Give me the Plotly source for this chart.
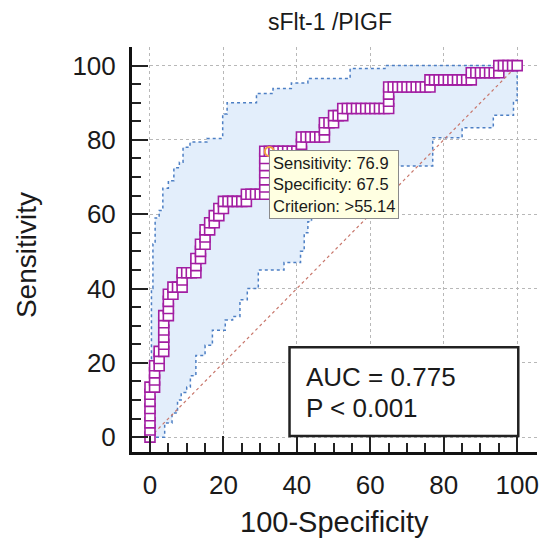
import plotly.graph_objects as go

# ROC points as counts: false positives (of 80 controls) and true positives (of 52 cases)
n_neg = 80
n_pos = 52
roc_fp = [0, 0, 0, 0, 0, 0, 0, 0, 1, 1, 1, 1, 2, 2, 2, 3, 3, 3, 3, 3, 3, 4, 4, 4, 4, 5, 5, 6,
          7, 7, 7, 8, 9, 10, 10, 10, 11, 11, 11, 12, 12, 12, 13, 13, 14, 14, 15, 15, 16, 16,
          17, 18, 19, 20, 21, 21, 22, 23, 24, 25, 25, 25, 25, 25, 25, 25,
          26, 27, 28, 29, 30, 31, 32, 33, 33, 33, 34, 35, 36, 37, 38, 38, 38, 39, 40, 40, 41,
          42, 42, 43, 44, 45, 46, 47, 48, 49, 50, 51, 52, 52, 52, 52,
          53, 54, 55, 56, 57, 58, 59, 60, 61, 61, 62, 63, 64, 65, 66, 67, 68, 69, 70, 70,
          71, 72, 73, 74, 75, 76, 76, 77, 78, 79, 80]
roc_tp = [0, 1, 2, 3, 4, 5, 6, 7, 7, 8, 9, 10, 10, 11, 12, 12, 13, 14, 15, 16, 17, 17, 18, 19, 20, 20, 21, 21,
          21, 22, 23, 23, 23, 23, 24, 25, 25, 26, 27, 27, 28, 29, 29, 30, 30, 31, 31, 32, 32, 33,
          33, 33, 33, 33, 33, 34, 34, 34, 34, 34, 35, 36, 37, 38, 39, 40,
          40, 40, 40, 40, 40, 40, 40, 40, 41, 42, 42, 42, 42, 42, 42, 43, 44, 44, 44, 45, 45,
          45, 46, 46, 46, 46, 46, 46, 46, 46, 46, 46, 46, 47, 48, 49,
          49, 49, 49, 49, 49, 49, 49, 49, 49, 50, 50, 50, 50, 50, 50, 50, 50, 50, 50, 51,
          51, 51, 51, 51, 51, 51, 52, 52, 52, 52, 52]

# 95% confidence bounds (step outlines, in %)
upper_x = [0.4, 0.4, 0.8, 0.8, 1.4, 1.4, 2.5, 2.5, 3.5, 3.5, 5.0, 5.0, 6.5, 6.5, 8.0, 8.0, 9.0, 9.0,
           10.9, 10.9, 15.5, 15.5, 19.8, 19.8, 21.0, 21.0, 29.0, 29.0, 33.5, 33.5, 38.5, 38.5,
           43.0, 43.0, 54.5, 54.5, 64.0, 64.0, 100.0]
upper_y = [0, 40, 40, 52, 52, 59, 59, 61, 61, 67, 67, 69, 69, 72.5, 72.5, 74, 74, 78,
           78, 79.4, 79.4, 80.4, 80.4, 87, 87, 90, 90, 92.5, 92.5, 93.8, 93.8, 95.3,
           95.3, 96.5, 96.5, 99.2, 99.2, 100, 100]
lower_x = [0, 4.0, 4.0, 6.0, 6.0, 7.5, 7.5, 8.5, 8.5, 10.0, 10.0, 11.0, 11.0, 12.5, 12.5, 15.0, 15.0,
           17.0, 17.0, 20.5, 20.5, 22.5, 22.5, 24.5, 24.5, 26.5, 26.5, 29.5, 29.5, 36.5, 36.5,
           41.0, 41.0, 42.0, 42.0, 43.0, 43.0, 44.0, 44.0, 77.0, 77.0, 85.0, 85.0, 93.5, 93.5,
           99.0, 99.0, 100.0, 100.0]
lower_y = [0, 0, 3.8, 3.8, 6.5, 6.5, 10, 10, 12, 12, 13.5, 13.5, 16.5, 16.5, 22, 22, 24.7,
           24.7, 28.8, 28.8, 31.5, 31.5, 32.5, 32.5, 37, 37, 40, 40, 45, 45, 47,
           47, 50, 50, 55, 55, 58, 58, 73, 73, 80.6, 80.6, 83.3, 83.3, 86.6,
           86.6, 90.6, 90.6, 100]

crit_x = 32.5
crit_y = 76.9
tick_vals = [0, 20, 40, 60, 80, 100]
minor_vals = [5, 10, 15, 25, 30, 35, 45, 50, 55, 65, 70, 75, 85, 90, 95]

roc_x = [v * 100 / n_neg for v in roc_fp]
roc_y = [v * 100 / n_pos for v in roc_tp]

FONT = "Arial, Liberation Sans, sans-serif"
PURPLE = "#a21ea2"
BLUE = "#4d7fc4"

fig = go.Figure()

# confidence band
fig.add_trace(go.Scatter(
    x=upper_x + lower_x[::-1], y=upper_y + lower_y[::-1],
    fill="toself", fillcolor="#e3eefb", line=dict(width=0),
    mode="lines", hoverinfo="skip"))
fig.add_trace(go.Scatter(x=upper_x, y=upper_y, mode="lines",
                         line=dict(color=BLUE, width=1.5, dash="dot")))
fig.add_trace(go.Scatter(x=lower_x, y=lower_y, mode="lines",
                         line=dict(color=BLUE, width=1.5, dash="dot")))
# reference diagonal
fig.add_trace(go.Scatter(x=[0, 100], y=[0, 100], mode="lines",
                         line=dict(color="#c8776c", width=1.2, dash="dot")))
# ROC curve
fig.add_trace(go.Scatter(
    x=roc_x, y=roc_y, mode="lines+markers",
    line=dict(color=PURPLE, width=2),
    marker=dict(symbol="square", size=10, color="white",
                line=dict(color=PURPLE, width=1.6))))
fig.add_trace(go.Scatter(
    x=[crit_x], y=[crit_y], mode="markers",
    marker=dict(symbol="circle-open", size=9, color="#f0a040", line=dict(width=2))))

axis_common = dict(
    tickvals=tick_vals, ticks="inside", ticklen=16, tickwidth=1.5, tickcolor="#222",
    showline=True, linewidth=3, linecolor="#111", mirror=False,
    showgrid=True, gridcolor="#b8b8b8", griddash="dot", gridwidth=1,
    zeroline=False, tickfont=dict(family=FONT, size=26, color="#1a1a1a"),
    ticklabelstandoff=8,
    minor=dict(tickvals=minor_vals, ticks="inside", ticklen=9, tickwidth=1.5,
               tickcolor="#222", showgrid=False),
)

# page body has an 8px margin, so the figure is drawn 8px smaller
fig.update_layout(
    width=542, height=542,
    margin=dict(l=124, r=13, t=39, b=98),
    plot_bgcolor="white", paper_bgcolor="white",
    showlegend=False,
    font=dict(family=FONT, color="#1a1a1a"),
    xaxis=dict(range=[-4.9, 105.4], **axis_common),
    yaxis=dict(range=[-4, 105], **axis_common),
)

# AUC box
fig.add_shape(type="rect", x0=38, x1=100.3, y0=0.3, y1=24.2,
              line=dict(color="#222", width=2.5), fillcolor="white", layer="above")
fig.add_annotation(x=42, y=16.1, text="AUC = 0.775", showarrow=False,
                   xanchor="left", yanchor="middle", font=dict(size=26, family=FONT))
fig.add_annotation(x=42, y=7.8, text="P < 0.001", showarrow=False,
                   xanchor="left", yanchor="middle", font=dict(size=26, family=FONT))

# criterion tooltip
fig.add_annotation(
    x=32.3, y=77.4, xanchor="left", yanchor="top", showarrow=False, align="left",
    text="Sensitivity: 76.9<br>Specificity: 67.5<br>Criterion: >55.14",
    font=dict(size=16.5, family=FONT, color="#1a1a1a"),
    bgcolor="#ffffe1", bordercolor="#8a8a8a", borderwidth=1, borderpad=3)

# titles
fig.add_annotation(x=0.49, y=1.0, xref="paper", yref="paper", yshift=25,
                   showarrow=False, text="sFlt-1 /PIGF", font=dict(size=23, family=FONT),
                   xanchor="center", yanchor="middle", borderpad=0)
fig.add_annotation(x=0.501, y=-0.173, xref="paper", yref="paper", showarrow=False,
                   text="100-Specificity", font=dict(size=29, family=FONT),
                   xanchor="center", yanchor="middle")
fig.add_annotation(x=-0.262, y=0.486, xref="paper", yref="paper", showarrow=False,
                   text="Sensitivity", textangle=-90, font=dict(size=28, family=FONT),
                   xanchor="center", yanchor="middle")

fig.write_html("out.html")
